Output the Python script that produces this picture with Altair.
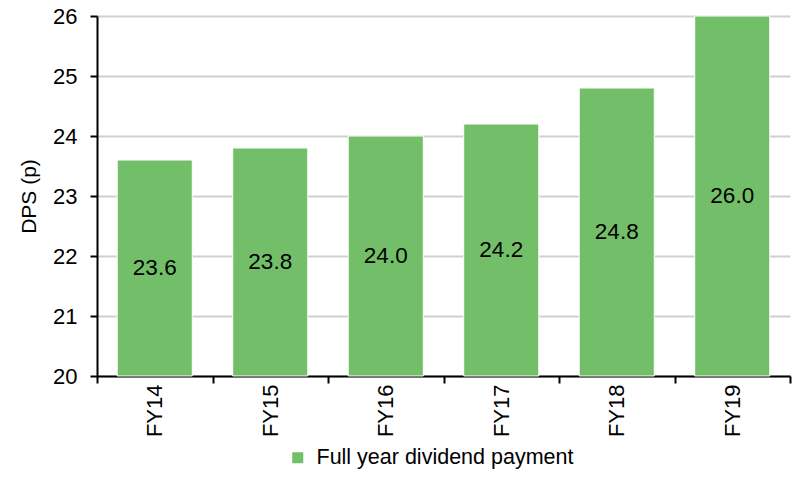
import altair as alt
import pandas as pd

categories = ["FY14", "FY15", "FY16", "FY17", "FY18", "FY19"]
values = [23.6, 23.8, 24.0, 24.2, 24.8, 26.0]
labels = ["23.6", "23.8", "24.0", "24.2", "24.8", "26.0"]
y_ticks = [20, 21, 22, 23, 24, 25, 26]
series_name = "Full year dividend payment"
y_min = 20

df = pd.DataFrame({"cat": categories, "val": values, "lab": labels,
                   "series": [series_name] * len(categories)})
df["base"] = y_min
df["mid"] = (df["val"] + y_min) / 2

FONT = "Liberation Sans"
FS = 22

xscale = alt.Scale(paddingInner=0, paddingOuter=0)
yscale = alt.Scale(domain=[20, 26], nice=False, zero=False)

xaxis = alt.Axis(labelAngle=-90, labelFontSize=FS, labelFont=FONT, labelColor="black",
                 labelAlign="right", labelBaseline="middle", labelPadding=1,
                 tickBand="extent", tickSize=7, tickColor="black", tickWidth=2,
                 domainColor="black", domainWidth=2, grid=False)
yaxis = alt.Axis(values=y_ticks, format="d",
                 labelFontSize=FS, labelFont=FONT,
                 labelColor="black", labelPadding=13, tickSize=7, tickColor="black",
                 tickWidth=2, domainColor="black", domainWidth=2,
                 gridColor="#d0d0d0", gridWidth=2,
                 titleFont=FONT, titleFontSize=21, titleFontWeight="normal",
                 titleColor="black", titlePadding=13)

bars = alt.Chart(df).mark_bar(stroke="white", strokeWidth=1,
                              width=alt.RelativeBandSize(0.65)).encode(
    x=alt.X("cat:N", sort=categories, title=None, scale=xscale, axis=xaxis),
    y=alt.Y("val:Q", title="DPS (p)", scale=yscale, axis=yaxis),
    y2=alt.Y2("base:Q"),
    fill=alt.Fill("series:N", scale=alt.Scale(range=["#73BF69"]),
                  legend=alt.Legend(title=None, orient="none", legendX=190, legendY=431,
                                    padding=0,
                                    symbolType="square", symbolSize=121, symbolStrokeWidth=0,
                                    labelFont=FONT, labelFontSize=21.5, labelColor="black",
                                    labelOffset=8, labelLimit=500)),
)

text = alt.Chart(df).mark_text(font=FONT, fontSize=22.5, color="black").encode(
    x=alt.X("cat:N", sort=categories, title=None, scale=xscale, axis=xaxis),
    y=alt.Y("mid:Q", title="DPS (p)", scale=yscale, axis=yaxis),
    text="lab:N",
)

chart = alt.layer(bars, text).properties(
    width=693, height=360,
    autosize=alt.AutoSizeParams(type="none"),
    padding={"left": 89, "top": 8, "right": 2, "bottom": 96},
).configure_view(stroke=None)

chart.save("out.html", embed_options={"renderer": "svg", "actions": False})
